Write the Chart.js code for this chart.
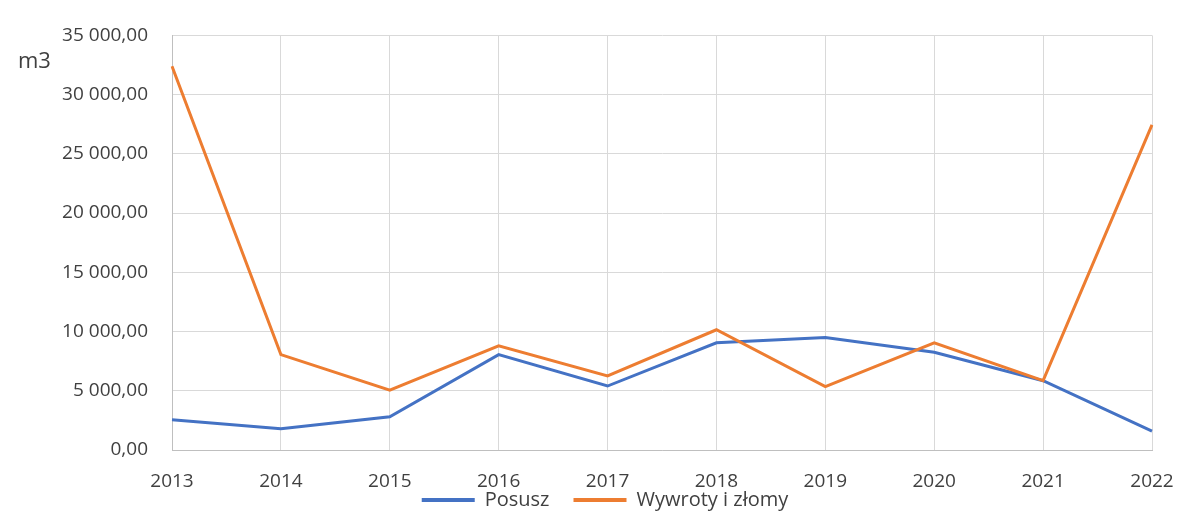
<!DOCTYPE html>
<html>
<head>
<meta charset="utf-8">
<script src="https://cdn.jsdelivr.net/npm/chart.js@4"></script>
<style>
  html, body { margin: 0; padding: 0; background: #ffffff; }
  #wrap { width: 1184px; height: 527px; position: relative; }
</style>
</head>
<body>
<div id="wrap"><canvas id="chart" width="1184" height="527"></canvas></div>
<script>
// Chart data
const years = ['2013', '2014', '2015', '2016', '2017', '2018', '2019', '2020', '2021', '2022'];
const posusz = [2550, 1800, 2800, 8050, 5400, 9050, 9500, 8250, 5850, 1600];
const wywroty = [32400, 8050, 5050, 8800, 6250, 10150, 5350, 9050, 5850, 27450];
const seriesNames = ['Posusz', 'Wywroty i złomy'];
const unitLabel = 'm3';

const FONT = "'Open Sans', 'DejaVu Sans', sans-serif";
const TEXT = '#404040';
const GRID = '#d9d9d9';
const LEGEND_PAD = 4;   // padding used when the legend is measured
const LEGEND_GAP = 24;  // wider gap between entries when it is drawn

// "35 000,00" style (Polish number format)
function formatPl(v) {
    const whole = Math.round(v).toString().replace(/\B(?=(\d{3})+(?!\d))/g, ' ');
    return whole + ',00';
}

// Draws the unit label at the top left
const unitPlugin = {
    id: 'unitLabel',
    afterDraw(chart) {
        const ctx = chart.ctx;
        ctx.save();
        ctx.font = '22px ' + FONT;
        ctx.fillStyle = TEXT;
        ctx.textAlign = 'left';
        ctx.textBaseline = 'middle';
        ctx.fillText(unitLabel, 18, 62);
        ctx.restore();
    }
};

// Keeps the legend short (it sits tight under the year labels) but spaces the entries out
const legendGapPlugin = {
    id: 'legendGap',
    beforeDraw(chart) {
        const lg = chart.legend;
        if (!lg) return;
        lg.options.labels.padding = LEGEND_GAP;
        lg.top -= (LEGEND_GAP - LEGEND_PAD) + 2;
    },
    afterDraw(chart) {
        if (chart.legend) chart.legend.options.labels.padding = LEGEND_PAD;
    }
};

new Chart(document.getElementById('chart').getContext('2d'), {
    type: 'line',
    data: {
        labels: years,
        datasets: [{
            label: seriesNames[0],
            data: posusz,
            borderColor: '#4472C4',
            backgroundColor: '#4472C4',
            borderWidth: 3,
            pointRadius: 0,
            tension: 0,
            order: 1,
        }, {
            label: seriesNames[1],
            data: wywroty,
            borderColor: '#ED7D31',
            backgroundColor: '#ED7D31',
            borderWidth: 3,
            pointRadius: 0,
            tension: 0,
            order: 0,
        }],
    },
    options: {
        responsive: false,
        animation: false,
        layout: { padding: { left: 18, right: 32, top: 32, bottom: 5 } },
        plugins: {
            tooltip: { enabled: false },
            legend: {
                position: 'bottom',
                labels: {
                    color: TEXT,
                    font: { family: FONT, size: 20 },
                    boxWidth: 53,
                    boxHeight: 4,
                    padding: LEGEND_PAD,
                    sort: (a, b) => a.datasetIndex - b.datasetIndex,
                    generateLabels(chart) {
                        const items = Chart.defaults.plugins.legend.labels.generateLabels(chart);
                        items.forEach((it) => { it.lineWidth = 0; });
                        return items;
                    },
                },
            },
        },
        scales: {
            x: {
                offset: false,
                grid: { color: GRID, drawTicks: false },
                border: { color: '#bfbfbf' },
                ticks: {
                    color: TEXT,
                    font: { family: FONT, size: 19 },
                    padding: 20,
                    maxRotation: 0,
                    autoSkip: false,
                },
                afterFit(scale) {
                    scale.height = 38;
                    scale.paddingLeft = 0;
                    scale.paddingRight = 0;
                },
            },
            y: {
                min: 0,
                max: 35000,
                grid: { color: GRID, drawTicks: false },
                border: { color: '#bfbfbf' },
                ticks: {
                    stepSize: 5000,
                    color: TEXT,
                    font: { family: FONT, size: 19 },
                    padding: 24,
                    callback: (v) => formatPl(v),
                },
                afterFit(scale) { scale.width = 154; },
            },
        },
    },
    plugins: [unitPlugin, legendGapPlugin],
});
</script>
</body>
</html>
